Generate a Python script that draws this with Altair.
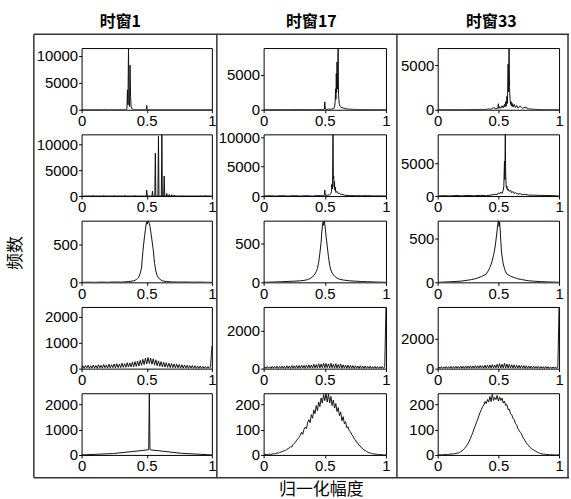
import altair as alt
import pandas as pd

# ---------------- data ----------------
BINS = [i / 100 for i in range(101)]
X_TICKS = [0, 0.5, 1]

COL_TITLES = ["时窗1", "时窗17", "时窗33"]
Y_TITLE = "频数"
X_TITLE = "归一化幅度"

# Row 1
R1C1_X = [0.0, 0.17, 0.174, 0.178, 0.344, 0.348, 0.352, 0.356, 0.36, 0.364, 0.368, 0.372, 0.376, 0.38, 0.384, 0.39, 0.4, 0.496, 0.5, 0.504, 1.0]
R1C1_Y = [0, 0, 80, 0, 0, 150, 3700, 900, 11480, 1200, 600, 8300, 2500, 600, 300, 100, 0, 0, 800, 0, 0]
R1C2_X = [0.0, 0.1, 0.2, 0.3, 0.4, 0.49, 0.496, 0.5, 0.504, 0.55, 0.57, 0.58, 0.585, 0.588, 0.591, 0.594, 0.597, 0.6, 0.603, 0.606, 0.609, 0.612, 0.615, 0.618, 0.621, 0.624, 0.63, 0.64, 0.65, 0.66, 0.68, 0.7, 0.75, 0.8, 1.0]
R1C2_Y = [0, 20, 10, 30, 20, 40, 60, 1140, 60, 80, 150, 400, 1200, 3000, 1500, 5200, 2500, 6860, 3000, 4500, 8860, 2200, 1500, 900, 700, 500, 400, 300, 250, 200, 120, 80, 40, 20, 0]
R1C3_X = [0.0, 0.2, 0.4, 0.42, 0.44, 0.46, 0.48, 0.496, 0.5, 0.504, 0.51, 0.52, 0.53, 0.54, 0.55, 0.555, 0.56, 0.565, 0.57, 0.575, 0.58, 0.584, 0.588, 0.592, 0.596, 0.6, 0.605, 0.61, 0.615, 0.62, 0.63, 0.64, 0.65, 0.66, 0.68, 0.7, 0.72, 0.75, 0.8, 0.9, 1.0]
R1C3_Y = [0, 10, 40, 100, 50, 250, 100, 200, 670, 150, 350, 150, 450, 200, 600, 300, 900, 400, 1500, 700, 5100, 2000, 6900, 2500, 1200, 600, 900, 400, 700, 300, 600, 250, 500, 200, 400, 150, 300, 100, 40, 10, 0]

# Row 2
R2C1_X = [0.0, 0.088, 0.09, 0.092, 0.168, 0.17, 0.172, 0.248, 0.25, 0.252, 0.33, 0.332, 0.334, 0.41, 0.412, 0.414, 0.496, 0.5, 0.504, 0.54, 0.544, 0.548, 0.562, 0.566, 0.57, 0.586, 0.59, 0.594, 0.612, 0.616, 0.62, 0.63, 0.634, 0.638, 0.65, 0.654, 0.658, 0.67, 0.672, 0.674, 0.69, 0.692, 0.694, 0.71, 0.712, 0.714, 0.77, 0.772, 0.774, 0.95, 0.952, 0.954, 1.0]
R2C1_Y = [0, 0, 100, 0, 0, 100, 0, 0, 100, 0, 0, 100, 0, 0, 100, 0, 0, 1150, 0, 0, 960, 0, 0, 8270, 0, 0, 11530, 0, 0, 11900, 0, 0, 3850, 0, 0, 500, 0, 0, 300, 0, 0, 250, 0, 0, 200, 0, 0, 100, 0, 0, 100, 0, 0]
R2C2_X = [0.0, 0.05, 0.1, 0.15, 0.2, 0.25, 0.3, 0.35, 0.4, 0.45, 0.49, 0.496, 0.5, 0.504, 0.52, 0.54, 0.55, 0.555, 0.558, 0.561, 0.564, 0.567, 0.57, 0.573, 0.576, 0.579, 0.582, 0.586, 0.59, 0.6, 0.61, 0.62, 0.63, 0.64, 0.66, 0.7, 0.75, 0.8, 0.85, 0.9, 0.95, 1.0]
R2C2_Y = [0, 50, 0, 60, 0, 60, 0, 60, 0, 80, 50, 100, 1000, 100, 150, 200, 400, 800, 2000, 1200, 3400, 10500, 3000, 3400, 1500, 2500, 1000, 1500, 600, 800, 400, 500, 250, 300, 150, 80, 60, 40, 60, 20, 30, 0]
R2C3_X = [0.0, 0.05, 0.1, 0.15, 0.2, 0.25, 0.3, 0.35, 0.4, 0.44, 0.47, 0.49, 0.5, 0.51, 0.52, 0.53, 0.54, 0.545, 0.55, 0.553, 0.557, 0.56, 0.563, 0.566, 0.57, 0.575, 0.58, 0.59, 0.6, 0.61, 0.62, 0.63, 0.64, 0.66, 0.68, 0.7, 0.72, 0.75, 0.8, 0.85, 0.9, 0.95, 1.0]
R2C3_Y = [0, 60, 20, 80, 30, 90, 40, 100, 60, 150, 250, 200, 500, 300, 600, 400, 900, 1500, 5300, 2500, 9400, 3500, 2000, 1200, 1500, 900, 1100, 700, 900, 500, 700, 400, 500, 300, 350, 200, 250, 150, 120, 100, 80, 60, 0]

# Row 3
R3C1_X = [0.0, 0.05, 0.1, 0.15, 0.2, 0.25, 0.3, 0.33, 0.36, 0.38, 0.4, 0.42, 0.43, 0.44, 0.45, 0.46, 0.47, 0.48, 0.49, 0.495, 0.5, 0.505, 0.51, 0.515, 0.52, 0.525, 0.53, 0.54, 0.55, 0.56, 0.57, 0.58, 0.59, 0.6, 0.62, 0.65, 0.7, 0.75, 0.8, 0.85, 0.9, 0.95, 1.0]
R3C1_Y = [0, 2, 0, 3, 1, 4, 3, 6, 10, 14, 20, 35, 50, 75, 120, 190, 400, 560, 700, 760, 800, 770, 816, 800, 780, 740, 680, 560, 430, 250, 150, 90, 60, 40, 20, 10, 5, 3, 4, 2, 3, 1, 0]
R3C2_X = [0.0, 0.05, 0.1, 0.15, 0.2, 0.25, 0.3, 0.33, 0.36, 0.38, 0.4, 0.42, 0.43, 0.44, 0.45, 0.46, 0.47, 0.475, 0.48, 0.485, 0.49, 0.495, 0.5, 0.505, 0.51, 0.52, 0.53, 0.54, 0.55, 0.56, 0.58, 0.6, 0.62, 0.65, 0.7, 0.75, 0.8, 0.85, 0.9, 0.95, 1.0]
R3C2_Y = [0, 3, 5, 8, 12, 15, 20, 25, 35, 50, 70, 110, 140, 180, 260, 380, 520, 640, 720, 780, 740, 800, 760, 690, 600, 470, 330, 220, 160, 120, 80, 55, 40, 30, 20, 15, 10, 8, 5, 3, 0]
R3C3_X = [0.0, 0.05, 0.1, 0.15, 0.2, 0.25, 0.28, 0.3, 0.33, 0.36, 0.38, 0.4, 0.42, 0.43, 0.44, 0.45, 0.46, 0.47, 0.48, 0.49, 0.495, 0.5, 0.505, 0.51, 0.515, 0.52, 0.525, 0.53, 0.54, 0.55, 0.56, 0.57, 0.6, 0.63, 0.66, 0.69, 0.72, 0.75, 0.8, 0.85, 0.9, 0.95, 1.0]
R3C3_Y = [0, 3, 6, 10, 15, 25, 32, 38, 50, 65, 80, 95, 140, 170, 205, 250, 310, 380, 480, 600, 660, 705, 640, 690, 600, 470, 360, 300, 210, 160, 120, 95, 70, 55, 40, 32, 25, 18, 12, 8, 5, 3, 0]

# Row 4 (counts on BINS)
R4C1_Y = [20, 110, 10, 120, 30, 130, 10, 110, 20, 140,
          20, 120, 10, 150, 30, 130, 20, 160, 30, 140,
          20, 170, 30, 150, 40, 180, 30, 190, 40, 170,
          40, 210, 50, 190, 50, 230, 60, 220, 70, 250,
          70, 270, 90, 290, 100, 320, 130, 360, 160, 400,
          180, 430, 200, 410, 170, 380, 140, 340, 110, 300,
          90, 270, 70, 250, 60, 230, 50, 210, 40, 200,
          40, 180, 30, 170, 30, 160, 20, 150, 20, 140,
          20, 130, 10, 120, 20, 120, 10, 110, 10, 100,
          10, 100, 10, 90, 10, 80, 10, 80, 10, 70,
          880]
R4C2_Y = [10, 90, 10, 110, 20, 100, 10, 120, 20, 110,
          20, 130, 10, 120, 20, 140, 20, 130, 10, 150,
          20, 140, 10, 160, 20, 150, 20, 170, 20, 160,
          20, 180, 30, 170, 20, 190, 30, 200, 30, 190,
          30, 230, 40, 210, 30, 260, 40, 240, 50, 290,
          40, 270, 50, 250, 40, 280, 40, 230, 30, 260,
          30, 220, 30, 240, 20, 200, 30, 190, 20, 180,
          20, 170, 20, 160, 10, 150, 20, 140, 10, 150,
          20, 130, 10, 140, 10, 120, 20, 130, 10, 110,
          10, 120, 10, 110, 10, 100, 10, 110, 10, 90,
          3260]
R4C3_Y = [10, 110, 10, 130, 20, 120, 10, 140, 20, 130,
          20, 150, 10, 140, 20, 160, 20, 150, 20, 170,
          20, 160, 20, 180, 20, 170, 30, 190, 20, 180,
          30, 200, 30, 190, 30, 210, 30, 200, 30, 220,
          30, 230, 40, 250, 30, 270, 40, 240, 50, 290,
          50, 330, 40, 290, 50, 350, 40, 310, 40, 280,
          40, 260, 30, 250, 30, 230, 30, 220, 30, 210,
          30, 200, 20, 190, 20, 180, 20, 170, 20, 160,
          20, 150, 20, 160, 10, 140, 20, 130, 10, 140,
          10, 130, 10, 120, 10, 110, 10, 120, 10, 100,
          4130]

# Row 5
R5C1_X = [0.0, 0.245, 0.51, 0.515, 0.52, 0.525, 0.53, 0.765, 1.0]
R5C1_Y = [0, 55, 200, 205, 2440, 210, 200, 65, 0]
R5C2_Y = [0, 1, 1, 2, 2, 3, 2, 4, 5, 4,
          6, 8, 7, 10, 11, 13, 15, 18, 17, 22,
          25, 28, 33, 31, 40, 46, 50, 58, 64, 70,
          78, 90, 82, 102, 110, 104, 130, 140, 128, 160,
          146, 178, 164, 196, 176, 210, 192, 226, 206, 240,
          216, 245, 210, 242, 206, 232, 196, 218, 186, 204,
          172, 188, 156, 170, 136, 152, 124, 132, 108, 112,
          96, 92, 80, 76, 64, 60, 50, 47, 38, 36,
          28, 25, 20, 18, 14, 12, 9, 8, 6, 5,
          4, 3, 3, 2, 2, 1, 1, 1, 0, 0,
          0]
R5C3_Y = [0, 0, 0, 1, 1, 1, 1, 2, 2, 2,
          3, 3, 4, 4, 5, 6, 7, 8, 10, 13,
          16, 20, 25, 31, 38, 46, 55, 65, 78, 90,
          104, 116, 130, 142, 156, 170, 180, 192, 198, 212,
          204, 220, 210, 232, 212, 242, 216, 228, 220, 236,
          214, 230, 216, 226, 206, 214, 196, 200, 180, 182,
          164, 160, 146, 140, 126, 120, 106, 98, 90, 84,
          72, 64, 56, 48, 42, 36, 30, 26, 22, 20,
          17, 14, 11, 9, 7, 5, 4, 3, 3, 2,
          2, 1, 1, 1, 1, 0, 0, 0, 0, 0,
          0]

# (xs, ys, y-axis max, y tick values)
PANELS = [
    (R1C1_X, R1C1_Y, 11480, [0, 5000, 10000]),
    (R1C2_X, R1C2_Y, 8860, [0, 5000]),
    (R1C3_X, R1C3_Y, 6900, [0, 5000]),
    (R2C1_X, R2C1_Y, 11900, [0, 5000, 10000]),
    (R2C2_X, R2C2_Y, 10500, [0, 5000, 10000]),
    (R2C3_X, R2C3_Y, 9400, [0, 5000]),
    (R3C1_X, R3C1_Y, 816, [0, 500]),
    (R3C2_X, R3C2_Y, 800, [0, 500]),
    (R3C3_X, R3C3_Y, 705, [0, 500]),
    (BINS, R4C1_Y, 2385, [0, 1000, 2000]),
    (BINS, R4C2_Y, 3260, [0, 2000]),
    (BINS, R4C3_Y, 4130, [0, 2000]),
    (R5C1_X, R5C1_Y, 2440, [0, 1000, 2000]),
    (BINS, R5C2_Y, 245, [0, 100, 200]),
    (BINS, R5C3_Y, 245, [0, 100, 200]),
]

COL_WIDTHS = [131, 123, 122]
PANEL_H = 62

# ---------------- chart ----------------
one = pd.DataFrame({"k": [0]})


def line_panel(xs, ys, ymax, yticks):
    df = pd.DataFrame({"x": xs, "y": ys})
    return alt.Chart(df).mark_line(color="#111111", strokeWidth=1, clip=True).encode(
        x=alt.X("x:Q", scale=alt.Scale(domain=[0, 1], nice=False, zero=False),
                axis=alt.Axis(values=X_TICKS, format="~g", title=None, labelFlush=False)),
        y=alt.Y("y:Q", scale=alt.Scale(domain=[0, ymax], nice=False),
                axis=alt.Axis(values=yticks, format="d", title=None)),
    )


def rule(x1, x2, y1, y2):
    return alt.Chart(one).mark_rule(color="#333333", strokeWidth=1.5).encode(
        x=alt.value(x1), x2=alt.value(x2), y=alt.value(y1), y2=alt.value(y2))


def text(t, x, y, size, bold=False, angle=0):
    return alt.Chart(one).mark_text(
        text=t, font="Noto Sans CJK SC", fontSize=size,
        fontWeight="bold" if bold else "normal", angle=angle,
        align="center", baseline="middle", color="#000000",
    ).encode(x=alt.value(x), y=alt.value(y))


anchor = alt.Chart(one).mark_rect(fill="white", fillOpacity=0, strokeOpacity=0).encode(
    x=alt.value(-81), x2=alt.value(490), y=alt.value(-46), y2=alt.value(453))

charts = []
for i, (xs, ys, ymax, yt) in enumerate(PANELS):
    col = i % 3
    base = line_panel(xs, ys, ymax, yt)
    if i == 0:
        deco = [
            rule(-48, 490, -14, -14),
            rule(-48, 490, 432, 432),
            rule(-48, -48, -14, 432),
            rule(136, 136, -14, 432),
            rule(317, 317, -14, 432),
            rule(489, 489, -14, 432),
            text(COL_TITLES[0], 39, -26, 16, bold=True),
            text(COL_TITLES[1], 231, -26, 16, bold=True),
            text(COL_TITLES[2], 412, -26, 16, bold=True),
            text(Y_TITLE, -66, 206, 17, angle=270),
            text(X_TITLE, 241, 444, 17),
        ]
        c = alt.layer(anchor, base, *deco).properties(width=COL_WIDTHS[col], height=PANEL_H)
    else:
        c = base.properties(width=COL_WIDTHS[col], height=PANEL_H)
    charts.append(c)

chart = alt.concat(
    *charts, columns=3,
    spacing=alt.RowColnumber(row=24.75, column=52),
    bounds="flush", align="each", padding=0, background="white",
).configure_view(
    stroke="#000000", strokeWidth=1
).configure_axis(
    labelFont="Liberation Sans", labelFontSize=15, labelColor="#000000",
    tickColor="#000000", tickSize=3, tickWidth=1, domain=False, grid=False,
    labelPadding=1, labelOverlap=False,
)

chart.save("out.html", embed_options={"renderer": "svg", "actions": False})
